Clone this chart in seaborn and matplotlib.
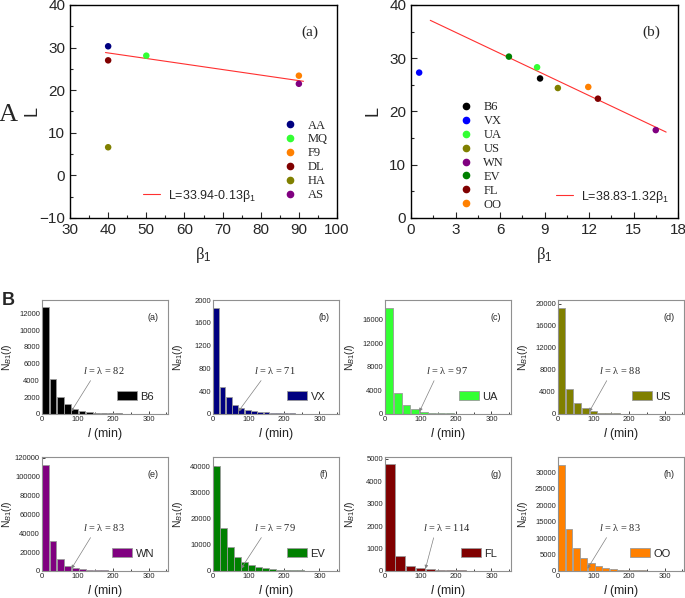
import numpy as np
import pandas as pd
import matplotlib
matplotlib.use("Agg")
import matplotlib.pyplot as plt
import seaborn as sns
from matplotlib.patches import Patch
from matplotlib.lines import Line2D
from matplotlib.ticker import MultipleLocator

# ---- panel A (a): L vs beta1 for six strains
a_labels = ['AA', 'MQ', 'F9', 'DL', 'HA', 'AS']
a_beta = [40, 50, 90, 40, 40, 90]
a_L = [30.3, 28.1, 23.4, 27.0, 6.6, 21.5]
a_colors = ['#000080', '#33ff33', '#ff8000', '#800000', '#808000', '#800080']
a_fit_coef = [33.94, -0.13]
a_fit_beta = [39.3, 91.2]

# ---- panel A (b): L vs beta1 for eight strains
b_labels = ['B6', 'VX', 'UA', 'US', 'WN', 'EV', 'FL', 'OO']
b_beta = [8.7, 0.55, 8.5, 9.9, 16.5, 6.6, 12.6, 11.95]
b_L = [26.2, 27.3, 28.3, 24.4, 16.5, 30.3, 22.4, 24.6]
b_colors = ['#000000', '#0000ff', '#33ff33', '#808000', '#800080', '#008000', '#800000', '#ff8000']
b_fit_coef = [38.83, -1.32]
b_fit_beta = [1.3, 17.2]

# ---- panel B: histograms of N_B1(l)
strains = ['B6', 'VX', 'UA', 'US', 'WN', 'EV', 'FL', 'OO']
panel_tags = ['(a)', '(b)', '(c)', '(d)', '(e)', '(f)', '(g)', '(h)']
lambdas = [82, 71, 97, 88, 83, 79, 114, 83]
bin_width = [20.5, 17.75, 24.25, 22.0, 20.75, 19.75, 28.5, 20.75]
bar_colors = ['#000000', '#000080', '#33ff33', '#808000', '#800080', '#008000', '#800000', '#ff8000']

n_b6 = [12740, 4230, 1980, 1170, 645, 400, 240, 160, 120, 80, 60, 45, 35, 25, 20]
n_vx = [1854, 480, 298, 152, 111, 70, 53, 41, 30, 22, 16, 12, 9, 7, 5, 4]
n_ua = [18000, 3600, 1600, 860, 400, 230, 170, 110, 80, 55, 40]
n_us = [19200, 4570, 2010, 1040, 550, 240, 120, 100, 60, 40]
n_wn = [113000, 31300, 12200, 5400, 2900, 1800, 1100, 700, 500, 350, 250, 150]
n_ev = [40300, 16300, 9000, 5400, 3300, 2200, 1500, 1000, 770, 500, 380, 300, 200, 150, 100]
n_fl = [4775, 675, 240, 120, 75, 45, 30, 25, 20, 15]
n_oo = [32350, 12700, 6900, 4070, 2340, 1530, 920, 610, 400, 300, 200, 150, 100]
all_counts = [n_b6, n_vx, n_ua, n_us, n_wn, n_ev, n_fl, n_oo]

y_max = [13600, 2000, 19300, 20700, 121000, 43600, 5075, 34700]
y_step = [2000, 400, 4000, 4000, 20000, 10000, 1000, 5000]

sns.set_style('ticks')
plt.rcParams['font.family'] = ['Liberation Sans', 'DejaVu Sans']
plt.rcParams['mathtext.fontset'] = 'custom'
plt.rcParams['mathtext.rm'] = 'Liberation Sans'
plt.rcParams['mathtext.it'] = 'Liberation Sans:italic'
plt.rcParams['mathtext.cal'] = 'Liberation Serif:italic'
plt.rcParams['xtick.direction'] = 'in'
plt.rcParams['ytick.direction'] = 'in'

fig = plt.figure(figsize=(6.85, 5.98), dpi=100)
serif = ['Liberation Serif', 'DejaVu Serif']


def scatter_panel(ax, beta, L, labels, colors, coef, fit_beta, tag, fit_text):
    df = pd.DataFrame({'beta': beta, 'L': L, 'strain': labels})
    sns.scatterplot(data=df, x='beta', y='L', hue='strain', palette=colors,
                    s=22, edgecolor='none', legend=False, ax=ax, zorder=3)
    fb = np.array(fit_beta)
    sns.lineplot(x=fb, y=coef[0] + coef[1] * fb, color='#ff3030', lw=0.8, ax=ax)
    for sp in ax.spines.values():
        sp.set_linewidth(1.0)
        sp.set_color('black')
    ax.tick_params(labelsize=11, length=4, width=0.8, top=False, right=False)
    ax.tick_params(which='minor', length=2, width=0.8)
    ax.set_xlabel(r'β$_1$', fontsize=12, family=serif, labelpad=6)
    ax.set_ylabel('L', fontsize=13)
    ax.yaxis.set_label_coords(-0.11, 0.5)
    ax.text(0.9, 0.87, tag, transform=ax.transAxes, fontsize=11, family=serif,
            ha='center', va='center')
    fit_leg = ax.legend([Line2D([], [], color='#ff3030', lw=0.8)], [fit_text],
                        loc='center left', frameon=False, fontsize=9,
                        handlelength=1.4, handletextpad=0.6)
    return fit_leg


# top left
axA = fig.add_axes([0.1022, 0.6355, 0.3898, 0.3562])
leg = scatter_panel(axA, a_beta, a_L, a_labels, a_colors, a_fit_coef, a_fit_beta,
                    '(a)', r'L=33.94-0.13β$_1$')
leg.set_bbox_to_anchor((0.23, 0.105), transform=axA.transAxes)
axA.set_xlim(30, 100)
axA.set_ylim(-10, 40)
axA.xaxis.set_major_locator(MultipleLocator(10))
axA.xaxis.set_minor_locator(MultipleLocator(5))
axA.yaxis.set_major_locator(MultipleLocator(10))
axA.yaxis.set_minor_locator(MultipleLocator(5))
axA.add_artist(leg)
hA = [Line2D([], [], ls='none', marker='o', ms=4.5, color=c) for c in a_colors]
axA.legend(hA, a_labels, loc='upper left', bbox_to_anchor=(0.76, 0.515),
           frameon=False, prop={'family': serif, 'size': 9}, labelspacing=0.15,
           handlelength=1.0, handletextpad=0.9)

# top right
axB = fig.add_axes([0.6000, 0.6355, 0.3898, 0.3562])
leg = scatter_panel(axB, b_beta, b_L, b_labels, b_colors, b_fit_coef, b_fit_beta,
                    '(b)', r'L=38.83-1.32β$_1$')
leg.set_bbox_to_anchor((0.5, 0.1), transform=axB.transAxes)
axB.set_xlim(0, 18)
axB.set_ylim(0, 40)
axB.xaxis.set_major_locator(MultipleLocator(3))
axB.xaxis.set_minor_locator(MultipleLocator(1.5))
axB.yaxis.set_major_locator(MultipleLocator(10))
axB.yaxis.set_minor_locator(MultipleLocator(5))
axB.add_artist(leg)
hB = [Line2D([], [], ls='none', marker='o', ms=4.5, color=c) for c in b_colors]
axB.legend(hB, b_labels, loc='upper left', bbox_to_anchor=(0.14, 0.60),
           frameon=False, prop={'family': serif, 'size': 9}, labelspacing=0.15,
           handlelength=1.0, handletextpad=0.9)

fig.text(0.012, 0.808, 'A', fontsize=19, family=serif, ha='center', va='center')
fig.text(0.012, 0.498, 'B', fontsize=13, fontweight='bold', ha='center', va='center')

# bottom histograms
lefts = [0.0613, 0.3109, 0.5620, 0.8146]
bottoms = [0.3077, 0.0452]
for i, strain in enumerate(strains):
    ax = fig.add_axes([lefts[i % 4], bottoms[i // 4], 0.184, 0.1906])
    vals = all_counts[i]
    centers = (np.arange(len(vals)) + 0.5) * bin_width[i]
    sns.barplot(x=centers, y=vals, native_scale=True, color=bar_colors[i],
                saturation=1, edgecolor='#9a9a9a', linewidth=0.6, width=0.92,
                errorbar=None, ax=ax)
    ax.set_xlim(0, 355)
    ax.set_ylim(0, y_max[i])
    ax.xaxis.set_major_locator(MultipleLocator(100))
    ax.xaxis.set_minor_locator(MultipleLocator(50))
    ax.yaxis.set_major_locator(MultipleLocator(y_step[i]))
    for sp in ax.spines.values():
        sp.set_color('#909090')
        sp.set_linewidth(0.8)
    ax.tick_params(labelsize=5.5, length=2, width=0.6, pad=1.5)
    ax.tick_params(which='minor', length=1.5, width=0.6)
    ax.set_xlabel(r'$l$ (min)', fontsize=9, labelpad=2)
    ax.set_ylabel(r'N$_{B1}$($l$)', fontsize=7.5)
    ax.yaxis.set_label_coords(-0.225, 0.5)
    ax.text(0.88, 0.85, panel_tags[i], transform=ax.transAxes, fontsize=6.5,
            ha='center', va='center')
    ax.annotate(r'$\mathcal{l}$ = λ = %d' % lambdas[i],
                xy=(lambdas[i], 0.02 * y_max[i]), xycoords='data',
                xytext=(0.49, 0.38), textcoords='axes fraction',
                fontsize=7.5, family=serif, ha='center', va='center',
                arrowprops=dict(arrowstyle='-|>', color='#808080', lw=0.5,
                                mutation_scale=5, relpos=(0.25, 0.0),
                                shrinkA=1, shrinkB=0))
    ax.legend([Patch(facecolor=bar_colors[i], edgecolor='#9a9a9a', lw=0.6)], [strain],
              loc='lower right', bbox_to_anchor=(0.97, 0.02), frameon=False,
              fontsize=8, handlelength=1.8, handleheight=0.9, handletextpad=0.3)

fig.savefig('out.png', dpi=100)
